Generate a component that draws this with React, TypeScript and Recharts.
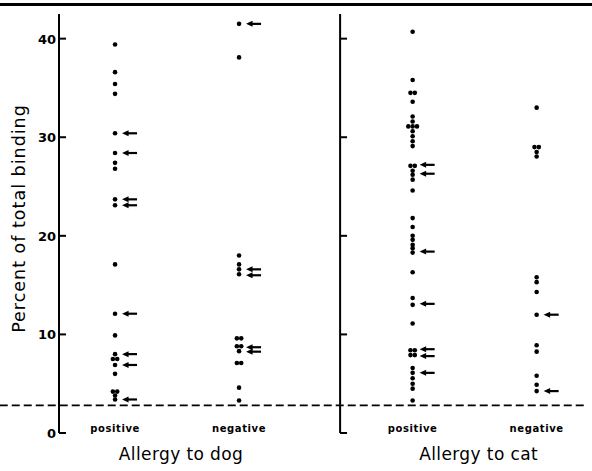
import { ScatterChart, Scatter, XAxis, YAxis, ReferenceLine } from 'recharts'

const yTicks = [0, 10, 20, 30, 40]
const categories = ['positive', 'negative', 'positive', 'negative']
const groups = ['Allergy to dog', 'Allergy to cat']

const dogPositive = [39.4, 36.6, 35.4, 34.4, 30.4, 28.4, 27.4, 26.8, 23.7, 23.1, 17.1, 12.1, 9.9, 8.0, 7.5, 7.5, 6.9, 6.0, 4.2, 4.2, 3.8, 3.4]
const dogPositiveArrows = [30.4, 28.4, 23.7, 23.1, 12.1, 8.0, 6.9, 3.4]
const dogNegative = [41.5, 38.1, 18.0, 17.1, 16.6, 16.1, 9.6, 9.6, 8.8, 8.8, 8.3, 7.1, 7.1, 4.6, 3.3]
const dogNegativeArrows = [41.5, 16.6, 16.0, 8.7, 8.25]
const catPositive = [40.7, 35.8, 34.5, 34.5, 33.6, 32.1, 31.6, 31.1, 31.1, 31.1, 30.6, 30.1, 29.6, 29.1, 27.1, 27.1, 26.6, 26.2, 25.7, 24.6, 21.8, 20.9, 20.0, 19.6, 19.1, 18.75, 18.3, 16.3, 13.7, 13.0, 11.1, 8.4, 8.4, 7.9, 7.9, 6.6, 6.1, 5.55, 5.0, 4.5, 3.3]
const catPositiveArrows = [27.2, 26.3, 18.4, 13.1, 8.5, 7.8, 6.1]
const catNegative = [33.0, 29.0, 29.0, 28.5, 28.05, 15.8, 15.3, 14.3, 12.0, 8.9, 8.25, 5.8, 4.9, 4.25]
const catNegativeArrows = [12.0, 4.25]
const threshold = 2.8

// axis layout (x in slot units)
const slotX = [1, 2, 3.4, 4.4]
const groupX = [1.5, 3.9]
const xMin = 0.548
const xMax = 4.798
const yTop = 42.5
const dividerX = 2.815
const font = '"DejaVu Sans", Lato, sans-serif'

// spread equal values side by side
function spread(values: number[], slot: number) {
  return values.map((v, i) => {
    const n = values.filter((w) => w === v).length
    const k = values.slice(0, i).filter((w) => w === v).length
    return { x: slot + (k - (n - 1) / 2) * 0.035, y: v }
  })
}
const arrows = (values: number[], slot: number) => values.map((v) => ({ x: slot, y: v }))

const Dot = (p: any) => <circle cx={p.cx} cy={p.cy} r={2.3} fill="#000" />
const Arrow = (p: any) => (
  <g>
    <path d={`M${p.cx + 7},${p.cy} l6.5,-3 v6 z`} fill="#000" />
    <line x1={p.cx + 11} x2={p.cx + 22} y1={p.cy} y2={p.cy} stroke="#000" strokeWidth={2.2} />
  </g>
)
const Nothing = () => <g />

const YTick = ({ x, y, payload }: any) => (
  <g>
    <line x1={x} x2={x + 7} y1={y} y2={y} stroke="#000" strokeWidth={2} />
    <text x={x - 3} y={y + 5} textAnchor="end" fontSize={13} fontWeight={700} fontFamily={font} fill="#000">
      {payload.value}
    </text>
  </g>
)

const CatTick = ({ x, y, payload }: any) => (
  <text x={x} y={y - 1} textAnchor="middle" fontSize={10} fontWeight={700} letterSpacing={0.6} fontFamily={font} fill="#000">
    {categories[slotX.indexOf(payload.value)]}
  </text>
)

const GroupTick = ({ x, y, payload }: any) => (
  <text x={x + 4} y={y + 5} textAnchor="middle" fontSize={17} letterSpacing={0.4} fontFamily={font} fill="#000">
    {groups[groupX.indexOf(payload.value)]}
  </text>
)

export default function App() {
  const series = [
    { dots: spread(dogPositive, slotX[0]), marks: arrows(dogPositiveArrows, slotX[0]) },
    { dots: spread(dogNegative, slotX[1]), marks: arrows(dogNegativeArrows, slotX[1]) },
    { dots: spread(catPositive, slotX[2]), marks: arrows(catPositiveArrows, slotX[2]) },
    { dots: spread(catNegative, slotX[3]), marks: arrows(catNegativeArrows, slotX[3]) },
  ]

  return (
    <div style={{ position: 'relative', width: 592, height: 471, background: '#fff' }}>
      <style>{'body{margin:0}'}</style>
      <div style={{ position: 'absolute', top: 3, left: 0, width: 592, height: 3, background: '#000' }} />
      <ScatterChart width={592} height={471} margin={{ top: 14, right: 6, bottom: 0, left: 0 }}>
        <XAxis
          type="number"
          dataKey="x"
          domain={[xMin, xMax]}
          allowDataOverflow
          ticks={slotX}
          axisLine={false}
          tickLine={false}
          tickSize={0}
          tickMargin={0}
          height={22}
          interval={0}
          tick={<CatTick />}
        />
        <XAxis
          xAxisId="g"
          type="number"
          dataKey="x"
          domain={[xMin, xMax]}
          allowDataOverflow
          ticks={groupX}
          axisLine={false}
          tickLine={false}
          tickSize={0}
          tickMargin={0}
          height={16}
          interval={0}
          tick={<GroupTick />}
        />
        <YAxis
          type="number"
          dataKey="y"
          domain={[0, yTop]}
          allowDataOverflow
          ticks={yTicks}
          width={59}
          tickSize={0}
          tickMargin={0}
          tickLine={false}
          axisLine={{ stroke: '#000', strokeWidth: 2 }}
          tick={<YTick />}
          label={{
            content: ({ viewBox }: any) => {
              const cx = viewBox.x + 25
              const cy = viewBox.y + viewBox.height / 2 - 5
              return (
                <text x={cx} y={cy} transform={`rotate(-90 ${cx} ${cy})`} textAnchor="middle" fontSize={17.5} letterSpacing={1} fontFamily={font} fill="#000">
                  Percent of total binding
                </text>
              )
            },
          }}
        />
        <ReferenceLine
          segment={[{ x: dividerX, y: 0 }, { x: dividerX, y: yTop }]}
          stroke="#000"
          strokeWidth={2}
          ifOverflow="visible"
        />
        {yTicks.map((t) => (
          <ReferenceLine
            key={t}
            segment={[{ x: dividerX, y: t }, { x: dividerX + 0.056, y: t }]}
            stroke="#000"
            strokeWidth={2}
            ifOverflow="visible"
          />
        ))}
        <ReferenceLine
          segment={[{ x: 0.07, y: threshold }, { x: xMax, y: threshold }]}
          stroke="#000"
          strokeWidth={1.6}
          strokeDasharray="8 4"
          ifOverflow="visible"
        />
        <Scatter xAxisId="g" data={groupX.map((x) => ({ x, y: 0 }))} shape={<Nothing />} isAnimationActive={false} />
        {series.map((s, i) => (
          <Scatter key={`d${i}`} data={s.dots} shape={<Dot />} isAnimationActive={false} />
        ))}
        {series.map((s, i) => (
          <Scatter key={`a${i}`} data={s.marks} shape={<Arrow />} isAnimationActive={false} />
        ))}
      </ScatterChart>
    </div>
  )
}
